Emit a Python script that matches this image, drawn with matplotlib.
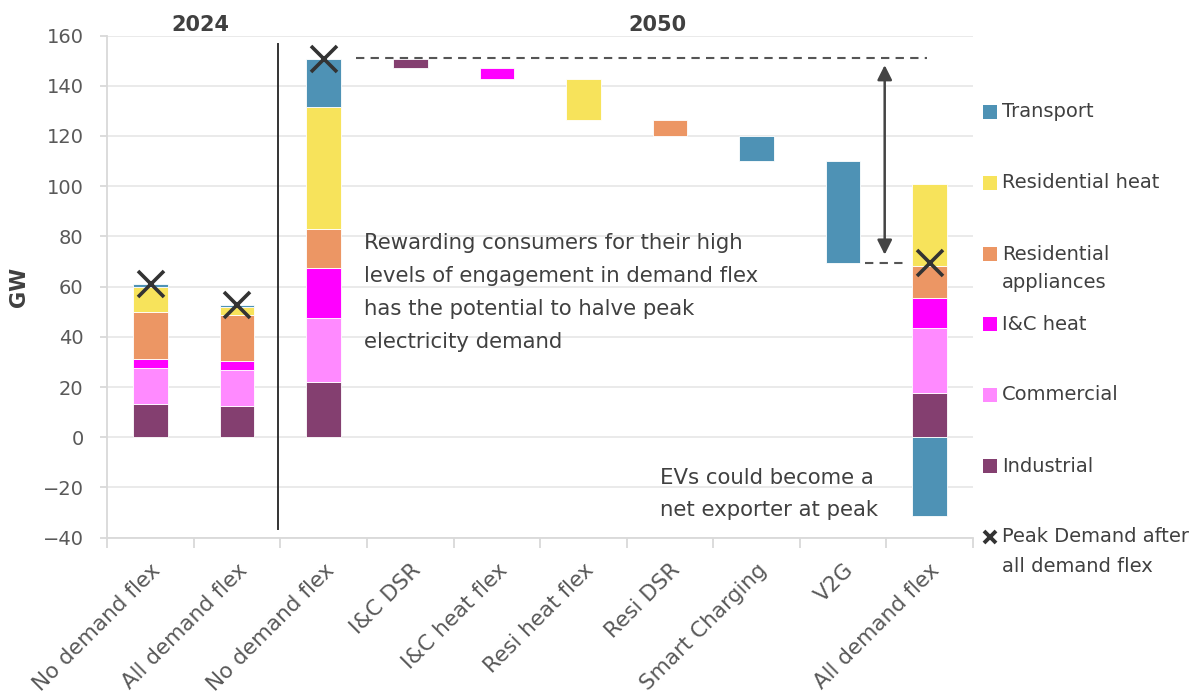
import matplotlib
matplotlib.use("Agg")
import matplotlib.pyplot as plt
import numpy as np
from matplotlib.patches import Rectangle
from matplotlib.lines import Line2D

plt.rcParams['font.family'] = ['DejaVu Sans']

# ---------------- data ----------------
categories = ["No demand flex", "All demand flex", "No demand flex", "I&C DSR",
              "I&C heat flex", "Resi heat flex", "Resi DSR", "Smart Charging",
              "V2G", "All demand flex"]

stack_pos = [0, 1, 2, 9]          # category index of stacked bars
sectors = ["Industrial", "Commercial", "I&C heat", "Residential appliances",
           "Residential heat", "Transport"]
industrial = [13.1, 12.5, 21.9, 17.5]
commercial = [14.5, 14.2, 25.7, 25.9]
ic_heat = [3.5, 3.6, 19.7, 12.0]
res_app = [18.8, 18.3, 15.5, 12.7]
res_heat = [10.0, 3.1, 48.9, 32.6]
transport = [1.1, 0.8, 19.0, -31.5]

# waterfall steps (reduction in GW) for categories 3..8
step_pos = [3, 4, 5, 6, 7, 8]
step_drop = [3.8, 4.3, 16.3, 6.3, 10.1, 40.5]
step_sector = ["Industrial", "I&C heat", "Residential heat",
               "Residential appliances", "Transport", "Transport"]

colors = {"Transport": "#4E92B5", "Residential heat": "#F7E35B",
          "Residential appliances": "#EC9664", "I&C heat": "#FF00FF",
          "Commercial": "#FF8AFF", "Industrial": "#843F70"}

legend_items = ["Transport", "Residential heat", "Residential\nappliances",
                "I&C heat", "Commercial", "Industrial"]
legend_keys = ["Transport", "Residential heat", "Residential appliances",
               "I&C heat", "Commercial", "Industrial"]
peak_label = "Peak Demand after\nall demand flex"
note_main = ["Rewarding consumers for their high", "levels of engagement in demand flex",
             "has the potential to halve peak", "electricity demand"]
note_ev = ["EVs could become a", "net exporter at peak"]

TXT = "#404040"
W, H = 1197, 699
fig = plt.figure(figsize=(W / 100, H / 100), dpi=100)
ax = fig.add_axes([107.3 / W, 1 - 537.7 / H, (973 - 107.3) / W, (537.7 - 35.5) / H])

ax.set_xlim(-0.5, 9.5)
ax.set_ylim(-40, 160)

bw = 0.40
edge = dict(edgecolor="#FFFFFF", linewidth=0.6)

# stacked bars
series = dict(zip(sectors, [industrial, commercial, ic_heat, res_app, res_heat, transport]))
pos_bottom = np.zeros(len(stack_pos))
neg_bottom = np.zeros(len(stack_pos))
for s in sectors:
    vals = np.array(series[s], dtype=float)
    bottoms = np.where(vals >= 0, pos_bottom, neg_bottom)
    ax.bar(stack_pos, vals, bw, bottom=bottoms, color=colors[s], zorder=3, **edge)
    pos_bottom += np.where(vals >= 0, vals, 0)
    neg_bottom += np.where(vals < 0, vals, 0)
peaks = pos_bottom + neg_bottom

# waterfall
level = peaks[2]
for p, d, s in zip(step_pos, step_drop, step_sector):
    ax.bar(p, d, bw, bottom=level - d, color=colors[s], zorder=3, **edge)
    level -= d
final_level = level

# peak markers
ax.plot(stack_pos, peaks, ls="none", marker="x", ms=19, mew=2.6, color="#333333", zorder=5)

# reference lines
ax.plot([2.37, 8.97], [peaks[2] + 0.4, peaks[2] + 0.4], ls=(0, (4, 3)), color="#555555", lw=1.5, zorder=4)
ax.plot([8.25, 8.71], [final_level, final_level], ls=(0, (4, 3)), color="#555555", lw=1.5, zorder=4)
ax.annotate("", xy=(8.48, 148.2), xytext=(8.48, 72.7),
            arrowprops=dict(arrowstyle="<|-|>", color="#444444", lw=1.8,
                            mutation_scale=22, shrinkA=0, shrinkB=0), zorder=4)
ax.plot([1.47, 1.47], [156.5, -36.6], color="#333333", lw=1.4, zorder=4, clip_on=False)

# texts
ax.text(0.58, 164.3, "2024", ha="center", va="center", fontsize=15, fontweight="bold", color=TXT, clip_on=False)
ax.text(5.85, 164.3, "2050", ha="center", va="center", fontsize=15, fontweight="bold", color=TXT, clip_on=False)

def px2y(py):
    return (437.3 - py) / 2.511

for i, line in enumerate(note_main):
    ax.text(2.46, px2y(243 + 33 * i), line, ha="left", va="center", fontsize=15.3, color=TXT, zorder=6)
for i, line in enumerate(note_ev):
    ax.text(5.88, px2y(478 + 32 * i), line, ha="left", va="center", fontsize=15.3, color=TXT, zorder=6)

# axes styling
ax.set_yticks(np.arange(-40, 161, 20))
ax.yaxis.grid(True, color="#E8E8E8", lw=1.3, zorder=0)
ax.set_axisbelow(True)
for sp in ["top", "right"]:
    ax.spines[sp].set_visible(False)
for sp in ["left", "bottom"]:
    ax.spines[sp].set_color("#D9D9D9")
    ax.spines[sp].set_linewidth(1.3)
ax.tick_params(axis="y", length=5, color="#D9D9D9", width=1.3, labelsize=14, labelcolor="#595959", pad=12)
ax.set_xticks(range(len(categories)))
ax.set_xticklabels(categories, rotation=45, ha="right", va="top", rotation_mode="anchor",
                   fontsize=15.5, color="#595959")
ax.tick_params(axis="x", which="major", length=0, pad=16)
ax.set_xticks(np.arange(-0.5, 10, 1), minor=True)
ax.tick_params(axis="x", which="minor", length=7, color="#D9D9D9", width=1.3)
ax.set_ylabel("GW", fontsize=15, fontweight="bold", color=TXT, labelpad=10)

# legend (manual, figure coordinates)
ys = [111.7, 182.7, 254, 324, 395, 466]
for lab, key, y in zip(legend_items, legend_keys, ys):
    fig.add_artist(Rectangle((983 / W, 1 - (y + 7) / H), 14 / W, 14 / H,
                             transform=fig.transFigure, facecolor=colors[key], edgecolor="none"))
    for i, line in enumerate(lab.split("\n")):
        fig.text(1002 / W, 1 - (y + 29 * i) / H, line, ha="left", va="center", fontsize=14, color=TXT)
fig.add_artist(Line2D([990 / W], [1 - 537 / H], marker="x", ms=8, mew=2.8, color="#333333",
                      transform=fig.transFigure))
for i, line in enumerate(peak_label.split("\n")):
    fig.text(1002 / W, 1 - (537 + 29 * i) / H, line, ha="left", va="center", fontsize=14, color=TXT)

fig.savefig("out.png", dpi=100)
